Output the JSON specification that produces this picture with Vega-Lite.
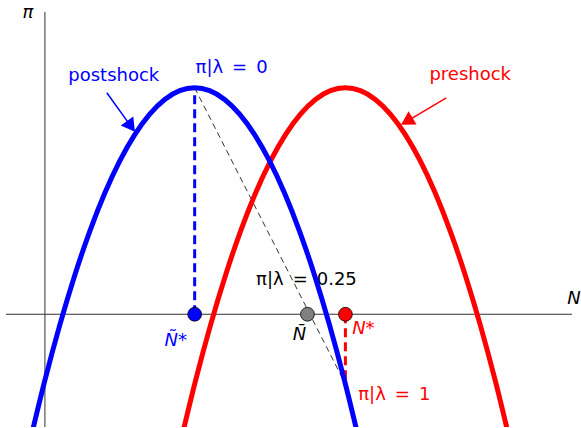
{
  "$schema": "https://vega.github.io/schema/vega-lite/v6.json",
  "width": 581,
  "height": 428,
  "padding": 0,
  "autosize": {"type": "fit", "contains": "padding"},
  "config": {"view": {"stroke": null}, "font": "DejaVu Sans"},
  "datasets": {
    "axes": [
      {"x": -39, "y": 0, "x2": 528, "y2": 0},
      {"x": 0, "y": -113, "x2": 0, "y2": 303}
    ],
    "curves": [
      {"series": "pre", "x": 136, "y": -127.7},
      {"series": "pre", "x": 151, "y": -66.1},
      {"series": "pre", "x": 166, "y": -10.4},
      {"series": "pre", "x": 181, "y": 39.4},
      {"series": "pre", "x": 196, "y": 83.4},
      {"series": "pre", "x": 211, "y": 121.5},
      {"series": "pre", "x": 226, "y": 153.7},
      {"series": "pre", "x": 241, "y": 180.1},
      {"series": "pre", "x": 256, "y": 200.6},
      {"series": "pre", "x": 271, "y": 215.3},
      {"series": "pre", "x": 286, "y": 224.1},
      {"series": "pre", "x": 301, "y": 227},
      {"series": "pre", "x": 316, "y": 224.1},
      {"series": "pre", "x": 331, "y": 215.3},
      {"series": "pre", "x": 346, "y": 200.6},
      {"series": "pre", "x": 361, "y": 180.1},
      {"series": "pre", "x": 376, "y": 153.7},
      {"series": "pre", "x": 391, "y": 121.5},
      {"series": "pre", "x": 406, "y": 83.4},
      {"series": "pre", "x": 421, "y": 39.4},
      {"series": "pre", "x": 436, "y": -10.4},
      {"series": "pre", "x": 451, "y": -66.1},
      {"series": "pre", "x": 466, "y": -127.7},
      {"series": "post", "x": -15, "y": -127.7},
      {"series": "post", "x": 0, "y": -66.1},
      {"series": "post", "x": 15, "y": -10.4},
      {"series": "post", "x": 30, "y": 39.4},
      {"series": "post", "x": 45, "y": 83.4},
      {"series": "post", "x": 60, "y": 121.5},
      {"series": "post", "x": 75, "y": 153.7},
      {"series": "post", "x": 90, "y": 180.1},
      {"series": "post", "x": 105, "y": 200.6},
      {"series": "post", "x": 120, "y": 215.3},
      {"series": "post", "x": 135, "y": 224.1},
      {"series": "post", "x": 150, "y": 227},
      {"series": "post", "x": 165, "y": 224.1},
      {"series": "post", "x": 180, "y": 215.3},
      {"series": "post", "x": 195, "y": 200.6},
      {"series": "post", "x": 210, "y": 180.1},
      {"series": "post", "x": 225, "y": 153.7},
      {"series": "post", "x": 240, "y": 121.5},
      {"series": "post", "x": 255, "y": 83.4},
      {"series": "post", "x": 270, "y": 39.4},
      {"series": "post", "x": 285, "y": -10.4},
      {"series": "post", "x": 300, "y": -66.1},
      {"series": "post", "x": 315, "y": -127.7}
    ],
    "drops": [
      {"series": "post", "x": 150, "y": 0, "x2": 150, "y2": 227},
      {"series": "pre", "x": 301, "y": 0, "x2": 301, "y2": -70}
    ],
    "chord": [
      {"x": 150, "y": 227, "x2": 301, "y2": -70}
    ],
    "dots": [
      {"series": "post", "x": 150, "y": 0},
      {"series": "mean", "x": 263, "y": 0},
      {"series": "pre", "x": 301, "y": 0}
    ],
    "arrows": [
      {"series": "post", "x": 62, "y": 222, "x2": 86.2, "y2": 188.3},
      {"series": "pre", "x": 402, "y": 217, "x2": 362.5, "y2": 193.3}
    ],
    "names": [
      {"series": "post", "x": 69, "y": 239, "text": "postshock"},
      {"series": "pre", "x": 426, "y": 240, "text": "preshock"},
      {"series": "post", "x": 187, "y": 247, "text": "π|λ\u2002=\u20020"},
      {"series": "ink", "x": 262, "y": 34, "text": "π|λ\u2002=\u20020.25"},
      {"series": "pre", "x": 350, "y": -81, "text": "π|λ\u2002=\u20021"}
    ],
    "symbols": [
      {"series": "ink", "x": -17, "y": 302, "text": "π"},
      {"series": "ink", "x": 530, "y": 15, "text": "N"},
      {"series": "post", "x": 131, "y": -27, "text": "Ñ*"},
      {"series": "ink", "x": 255, "y": -21, "text": "N̄"},
      {"series": "pre", "x": 319, "y": -15, "text": "N*"}
    ]
  },
  "encoding": {
    "x": {"field": "x", "type": "quantitative", "axis": null,
          "scale": {"domain": [-45, 536], "nice": false, "zero": false}},
    "y": {"field": "y", "type": "quantitative", "axis": null,
          "scale": {"domain": [-113, 315], "nice": false, "zero": false}}
  },
  "layer": [
    {
      "data": {"name": "axes"},
      "mark": {"type": "rule", "color": "#333333", "strokeWidth": 1},
      "encoding": {"x2": {"field": "x2"}, "y2": {"field": "y2"}}
    },
    {
      "data": {"name": "names"},
      "mark": {"type": "text", "fontSize": 18, "align": "center", "baseline": "middle"},
      "encoding": {
        "text": {"field": "text"},
        "color": {"field": "series", "type": "nominal", "legend": null,
                  "scale": {"domain": ["post", "pre", "ink", "mean"],
                            "range": ["#0000ff", "#ff0000", "#000000", "#808080"]}}
      }
    },
    {
      "data": {"name": "symbols"},
      "mark": {"type": "text", "fontSize": 18, "fontStyle": "italic", "align": "center", "baseline": "middle"},
      "encoding": {
        "text": {"field": "text"},
        "color": {"field": "series", "type": "nominal", "legend": null}
      }
    },
    {
      "data": {"name": "chord"},
      "mark": {"type": "rule", "color": "#000000", "strokeWidth": 0.8, "strokeDash": [6, 4]},
      "encoding": {"x2": {"field": "x2"}, "y2": {"field": "y2"}}
    },
    {
      "data": {"name": "drops"},
      "mark": {"type": "rule", "strokeWidth": 3, "strokeDash": [9, 5]},
      "encoding": {
        "x2": {"field": "x2"}, "y2": {"field": "y2"},
        "color": {"field": "series", "type": "nominal", "legend": null}
      }
    },
    {
      "data": {"name": "curves"},
      "mark": {"type": "line", "strokeWidth": 5, "interpolate": "monotone", "clip": true},
      "encoding": {
        "color": {"field": "series", "type": "nominal", "legend": null},
        "order": {"field": "x", "type": "quantitative"}
      }
    },
    {
      "data": {"name": "dots"},
      "mark": {"type": "point", "filled": true, "size": 190, "opacity": 1, "stroke": "#000000", "strokeWidth": 0.8},
      "encoding": {
        "fill": {"field": "series", "type": "nominal", "legend": null,
                 "scale": {"domain": ["post", "pre", "ink", "mean"],
                           "range": ["#0000ff", "#ff0000", "#000000", "#808080"]}}
      }
    },
    {
      "data": {"name": "arrows"},
      "mark": {"type": "rule", "strokeWidth": 1.5},
      "encoding": {
        "x2": {"field": "x2"}, "y2": {"field": "y2"},
        "color": {"field": "series", "type": "nominal", "legend": null}
      }
    },
    {
      "data": {"name": "arrows"},
      "transform": [{"filter": "datum.series === 'post'"}],
      "mark": {"type": "point", "shape": "triangle-up", "filled": true, "opacity": 1, "size": 240, "angle": 144},
      "encoding": {
        "x": {"field": "x2", "type": "quantitative"},
        "y": {"field": "y2", "type": "quantitative"},
        "color": {"field": "series", "type": "nominal", "legend": null}
      }
    },
    {
      "data": {"name": "arrows"},
      "transform": [{"filter": "datum.series === 'pre'"}],
      "mark": {"type": "point", "shape": "triangle-up", "filled": true, "opacity": 1, "size": 240, "angle": 239},
      "encoding": {
        "x": {"field": "x2", "type": "quantitative"},
        "y": {"field": "y2", "type": "quantitative"},
        "color": {"field": "series", "type": "nominal", "legend": null}
      }
    }
  ]
}
